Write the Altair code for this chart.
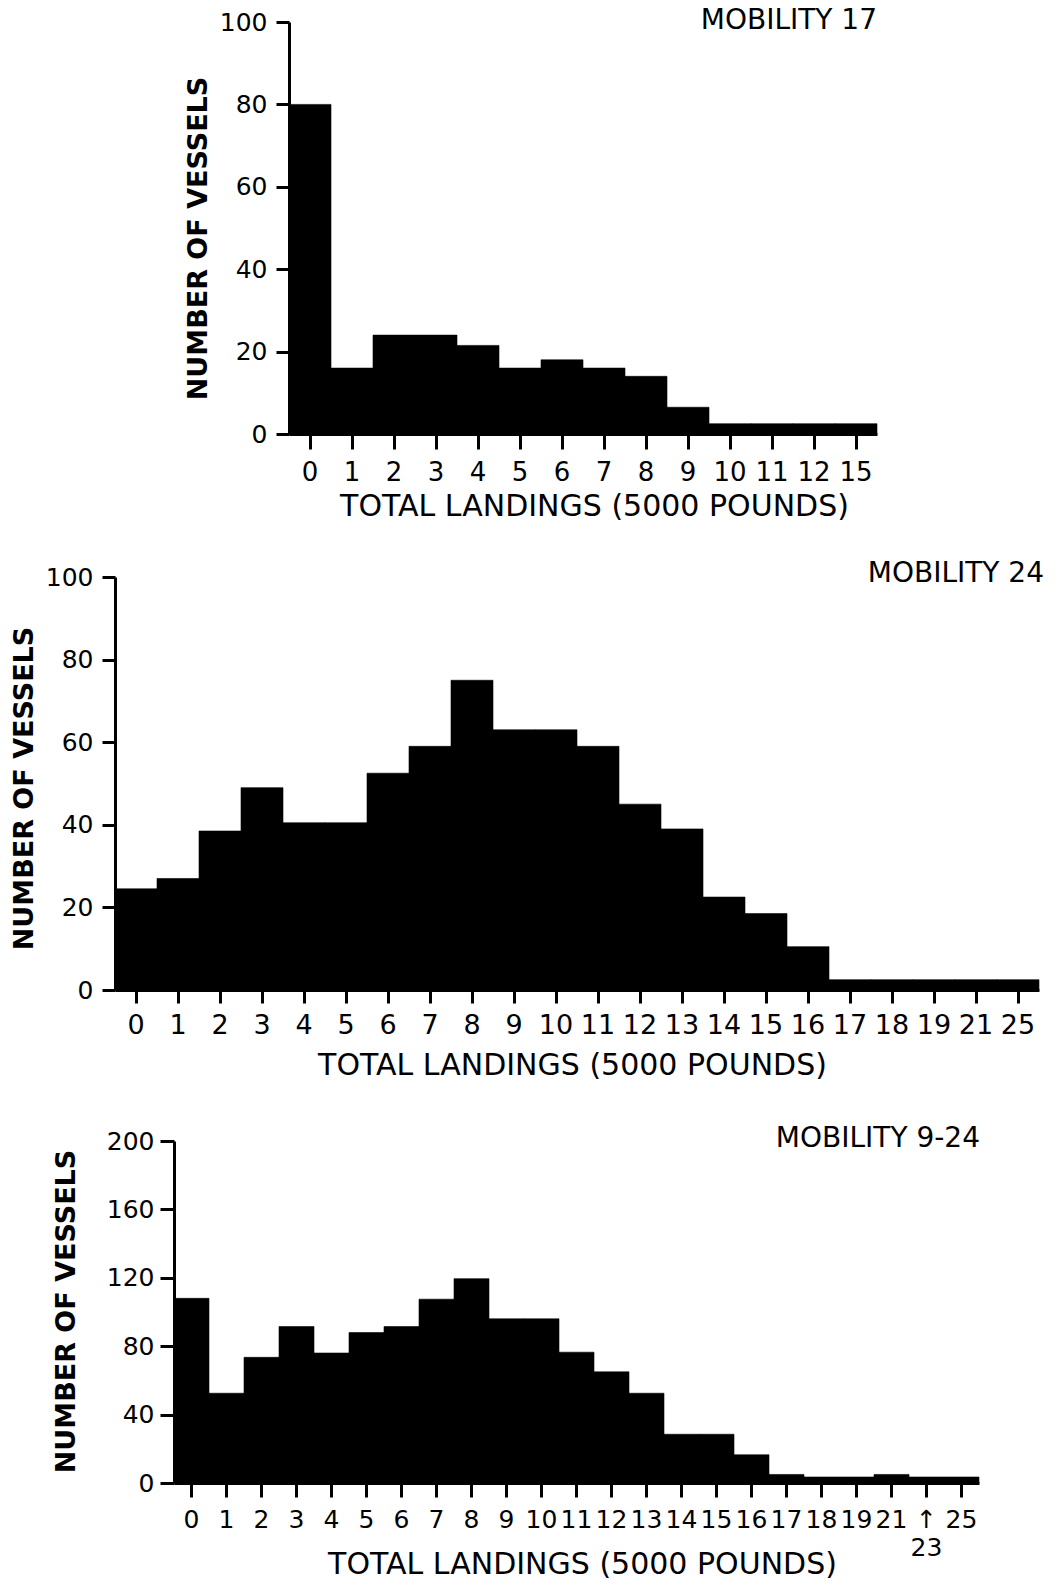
import altair as alt
import pandas as pd

# ---------------- data ----------------
cats17 = ["0", "1", "2", "3", "4", "5", "6", "7", "8", "9", "10", "11", "12", "15"]
vessels17 = [80, 16, 24, 24, 21.5, 16, 18, 16, 14, 6.5, 2.5, 2.5, 2.5, 2.5]

cats24 = ["0", "1", "2", "3", "4", "5", "6", "7", "8", "9", "10", "11", "12", "13",
          "14", "15", "16", "17", "18", "19", "21", "25"]
vessels24 = [24.5, 27, 38.5, 49, 40.5, 40.5, 52.5, 59, 75, 63, 63, 59, 45, 39,
             22.5, 18.5, 10.5, 2.5, 2.5, 2.5, 2.5, 2.5]

cats924 = ["0", "1", "2", "3", "4", "5", "6", "7", "8", "9", "10", "11", "12", "13",
           "14", "15", "16", "17", "18", "19", "21", "23", "25"]
vessels924 = [108, 52.5, 73.5, 91.5, 76, 88, 91.5, 107.5, 119.5, 96, 96, 76.5, 65, 52.5,
              28.5, 28.5, 16.5, 5, 3.5, 3.5, 5, 3.5, 3.5]

yticks_100 = [0, 20, 40, 60, 80, 100]
yticks_200 = [0, 40, 80, 120, 160, 200]

panel_titles = ["MOBILITY 17", "MOBILITY 24", "MOBILITY 9-24"]
x_title = "TOTAL LANDINGS (5000 POUNDS)"
y_title = "NUMBER OF VESSELS"

FONT = "DejaVu Sans"


def panel(cats, vals, ymax, yticks, label, w, h, s):
    df = pd.DataFrame({"landings": cats, "vessels": vals})
    xaxis_kw = dict(
        title=x_title, labelAngle=0, labelFont=FONT, labelFontSize=s["xfs"],
        labelColor="black", labelPadding=s["xlp"], labelOverlap=False,
        tickSize=s["xts"], tickWidth=3, tickColor="black",
        domainWidth=3, domainColor="black",
        titleFont=FONT, titleFontSize=30, titleFontWeight="normal", titleColor="black",
        titleX=s["ttx"], titleY=s["tty"], titleAlign="center", titleBaseline="middle",
    )
    if "lexpr" in s:
        xaxis_kw["labelExpr"] = s["lexpr"]
        xaxis_kw["labelLineHeight"] = 28
    bars = alt.Chart(df).mark_bar(color="black", stroke="black", strokeWidth=0.6).encode(
        x=alt.X("landings:O", sort=cats,
                scale=alt.Scale(paddingInner=0, paddingOuter=0),
                axis=alt.Axis(**xaxis_kw)),
        y=alt.Y("vessels:Q", scale=alt.Scale(domain=[0, ymax], nice=False),
                axis=alt.Axis(
                    title=y_title, values=yticks, grid=False,
                    labelFont=FONT, labelFontSize=25, labelColor="black",
                    labelPadding=s["ylp"], tickSize=s["yts"], tickWidth=3, tickColor="black",
                    domainWidth=3, domainColor="black",
                    titleFont=FONT, titleFontSize=27, titleFontWeight="bold",
                    titleColor="black", titleAngle=270, titleAlign="center",
                    titleBaseline="middle", titleX=s["ytx"], titleY=s["yty"])),
    )
    txt = alt.Chart(pd.DataFrame({"t": [label]})).mark_text(
        align="right", baseline="middle", font=FONT, fontSize=28, color="black"
    ).encode(x=alt.value(w + s["mx"]), y=alt.value(s["my"]), text="t:N")
    return alt.layer(bars, txt).properties(width=w, height=h)


def spacer(w):
    return alt.Chart(pd.DataFrame({"s": [0]})).mark_point(opacity=0, size=1).encode(
        x=alt.value(0), y=alt.value(0)
    ).properties(width=w, height=10)


p1 = panel(cats17, vessels17, 100, yticks_100, panel_titles[0], 588, 412,
           dict(xfs=26, xlp=10, xts=15, ttx=305, tty=72,
                ylp=9, yts=13, ytx=-91, yty=216, mx=0, my=-1))
p2 = panel(cats24, vessels24, 100, yticks_100, panel_titles[1], 924, 413,
           dict(xfs=27, xlp=9, xts=13, ttx=457, tty=75,
                ylp=9, yts=13, ytx=-91, yty=211, mx=5, my=-3))
p3 = panel(cats924, vessels924, 200, yticks_200, panel_titles[2], 805, 342,
           dict(xfs=25, xlp=10, xts=14, ttx=408, tty=81,
                ylp=6, yts=14, ytx=-108, yty=170, mx=1, my=-2,
                lexpr="datum.value == '23' ? ['\u2191', '23'] : datum.label"))

row1 = alt.hconcat(spacer(177), p1, spacing=0)
row2 = alt.hconcat(spacer(3), p2, spacing=0)
row3 = alt.hconcat(spacer(45), p3, spacing=0)

inner = alt.vconcat(row1, row2, spacing=39)
chart = alt.vconcat(inner, row3, spacing=45).properties(
    padding={"left": 6, "top": 7, "right": 0, "bottom": 0},
    background="white",
).configure_view(stroke="transparent", strokeWidth=0)

chart.save("out.html", embed_options={"renderer": "svg", "actions": False})
